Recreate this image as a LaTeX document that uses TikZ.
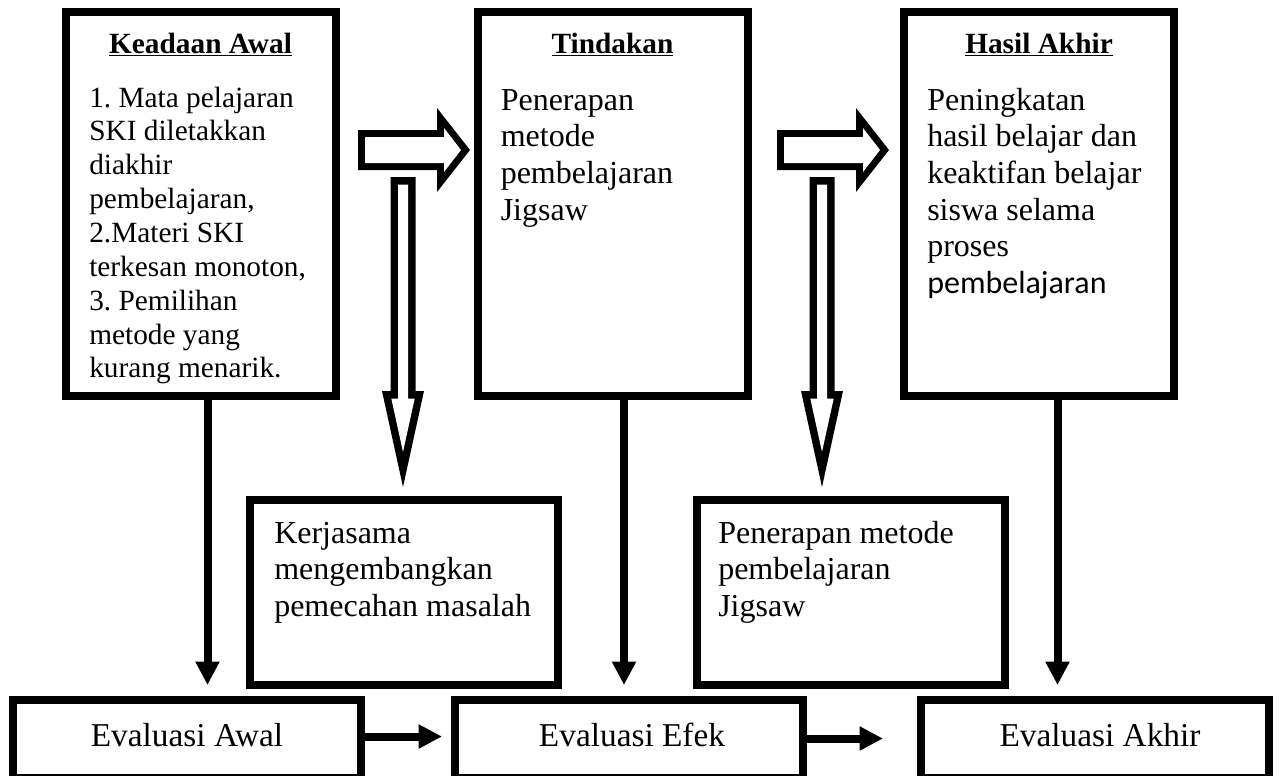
\documentclass[tikz,border=0pt]{standalone}
\usepackage{fontspec}
\setmainfont{Liberation Serif}
\newfontfamily\carlitofont{Carlito}
\usetikzlibrary{arrows.meta}
\frenchspacing
\tikzset{
  box/.style={draw=black,line width=6pt,fill=white,inner sep=0pt},
  topbox/.style={box,minimum width=202.5pt,minimum height=288pt},
  midbox/.style={box,minimum width=231pt,minimum height=138.75pt},
  evalbox/.style={box,minimum width=261pt,minimum height=58.5pt},
  titletext/.style={inner sep=0pt,anchor=base,font=\fontsize{22}{25.4}\selectfont\bfseries},
  smalltext/.style={inner sep=0pt,anchor=base west,font=\fontsize{22}{25.4}\selectfont},
  bigtext/.style={inner sep=0pt,anchor=base west,font=\fontsize{24}{27.5}\selectfont},
  evaltext/.style={inner sep=0pt,anchor=base,font=\fontsize{25}{28}\selectfont},
  thinarrow/.style={line width=6pt,-{Triangle[length=17.5pt,width=17pt]}},
  rblock/.pic={
    \fill[black] (0,-20) -- (79,-20) -- (79,-42) -- (112,0) -- (79,42) -- (79,20) -- (0,20) -- cycle;
    \fill[white] (7,-13) -- (86,-13) -- (86,-22) -- (103,0) -- (86,22) -- (86,13) -- (7,13) -- cycle;
  },
  dblock/.pic={
    \fill[black] (-12.5,0) -- (12.5,0) -- (12.5,214) -- (21,214) -- (0,310) -- (-21,214) -- (-12.5,214) -- cycle;
    \fill[white] (-5,7.5) -- (5,7.5) -- (5,221.5) -- (11.7,221.5) -- (0,274.9) -- (-11.7,221.5) -- (-5,221.5) -- cycle;
  }
}
\begin{document}
\begin{tikzpicture}[x=0.75pt,y=-0.75pt]
\useasboundingbox (0,0) rectangle (1281,775);
\fill[white] (0,0) rectangle (1281,775);

% top boxes
\node[topbox] (b1) at (200.5,204) {};
\node[topbox] (b2) at (612.5,204) {};
\node[topbox] (b3) at (1039,204) {};

\node[titletext] (t1) at (200.5,53) {\underline{Keadaan Awal}};
\node[titletext] (t2) at (612.5,53) {\underline{Tindakan}};
\node[titletext] (t3) at (1039,53) {\underline{Hasil Akhir}};

\node[smalltext] (x1) at (89,107) {\parbox[t]{220pt}{\raggedright
  1. Mata pelajaran\\SKI diletakkan\\diakhir\\pembelajaran,\\2.Materi SKI\\terkesan monoton,\\3. Pemilihan\\metode yang\\kurang menarik.}};
\node[bigtext] (x2) at (500.5,110) {\parbox[t]{200pt}{\raggedright
  Penerapan\\metode\\pembelajaran\\Jigsaw}};
\node[bigtext] (x3) at (927,110) {\parbox[t]{220pt}{\raggedright
  Peningkatan\\hasil belajar dan\\keaktifan belajar\\siswa selama\\proses\\{\carlitofont pembelajaran}}};

% middle boxes
\node[midbox] (m1) at (404,592.5) {};
\node[midbox] (m2) at (851,592.5) {};
\node[bigtext] (xm1) at (274,543) {\parbox[t]{230pt}{\raggedright
  Kerjasama\\mengembangkan\\pemecahan masalah}};
\node[bigtext] (xm2) at (718,543) {\parbox[t]{230pt}{\raggedright
  Penerapan metode\\pembelajaran\\Jigsaw}};

% bottom boxes
\node[evalbox] (e1) at (187,739) {};
\node[evalbox] (e2) at (629,739) {};
\node[evalbox] (e3) at (1094.5,739) {};
\node[evaltext] (te1) at (187,746) {Evaluasi Awal};
\node[evaltext] (te2) at (632,746) {Evaluasi Efek};
\node[evaltext] (te3) at (1100,746) {Evaluasi Akhir};

% block arrows
\pic at (358,150) {rblock};
\pic at (777,150) {rblock};
\pic at (403,177) {dblock};
\pic at (822,177) {dblock};

% thin arrows
\coordinate (v1) at (207.5,685);
\coordinate (v2) at (624,685);
\coordinate (v3) at (1057.5,685);
\draw[thinarrow] (b1.south -| v1) -- (v1);
\draw[thinarrow] (b2.south -| v2) -- (v2);
\draw[thinarrow] (b3.south -| v3) -- (v3);

\coordinate (h1) at (442,736.5);
\coordinate (h2) at (883,738.5);
\draw[thinarrow] (e1.east |- h1) -- (h1);
\draw[thinarrow] (e2.east |- h2) -- (h2);
\end{tikzpicture}
\end{document}
